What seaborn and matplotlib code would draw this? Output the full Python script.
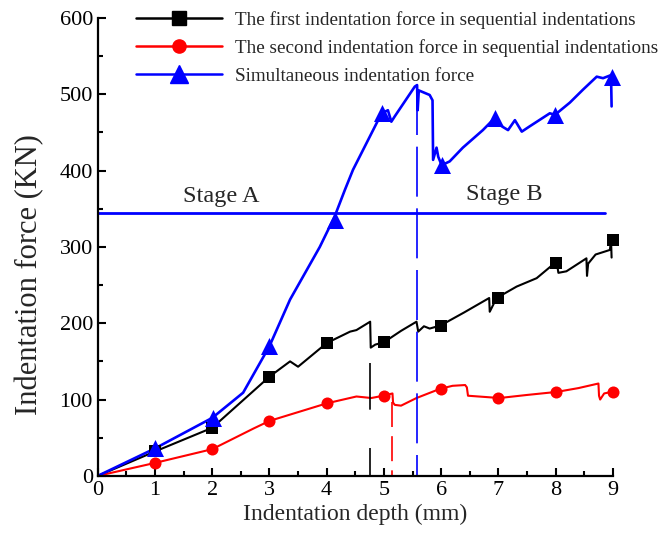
import numpy as np
import pandas as pd
import matplotlib
matplotlib.use("Agg")
import matplotlib.pyplot as plt
from matplotlib.lines import Line2D
from matplotlib.ticker import MultipleLocator
import seaborn as sns

# first indentation force (sequential) - black
first_depth = [0, 1.0, 2.0, 3.0, 3.36, 3.5, 3.71, 4.0, 4.41, 4.52, 4.76, 4.77, 4.85, 5.0,
               5.3, 5.57, 5.6, 5.7, 5.8, 5.99, 6.4, 6.84, 6.85, 6.97, 7.32, 7.67, 7.99,
               8.02, 8.05, 8.19, 8.54, 8.55, 8.57, 8.7, 8.95, 8.97, 8.98]
first_force = [0, 32, 63, 130, 150, 143, 156, 174, 189, 191, 202, 168, 172, 175,
               190, 202, 189, 196, 193, 197, 214, 233, 215, 233, 248, 259, 279,
               280, 266, 268, 285, 262, 278, 290, 296, 309, 286]
first_mark_x = [1, 2, 3, 4, 5, 6, 7, 8, 9]
first_mark_y = [32, 63, 130, 174, 175, 197, 233, 279, 309]

# second indentation force (sequential) - red
second_depth = [0, 1.0, 2.0, 2.72, 3.0, 4.0, 4.52, 4.78, 4.99, 5.15, 5.16, 5.19, 5.3,
                5.57, 5.98, 6.2, 6.42, 6.45, 6.47, 7.02, 7.5, 8.02, 8.4, 8.75, 8.76, 8.78,
                8.85, 8.98]
second_force = [0, 17, 35, 62, 72, 95, 104, 102, 105, 108, 96, 93, 92,
                102, 114, 118, 119, 116, 105, 102, 106, 110, 115, 121, 105, 100,
                108, 110]
second_mark_x = [1, 2, 3, 4, 5, 6, 7, 8, 9]
second_mark_y = [17, 35, 72, 95, 105, 114, 102, 110, 110]

# simultaneous indentation force - blue
simul_depth = [0, 1.0, 2.0, 2.54, 3.0, 3.36, 3.88, 4.14, 4.32, 4.46, 4.96, 5.07, 5.13,
               5.19, 5.54, 5.58, 5.59, 5.61, 5.8, 5.85, 5.86, 5.92, 5.95, 6.01, 6.15,
               6.38, 6.73, 6.94, 7.06, 7.17, 7.29, 7.41, 7.55, 7.9, 7.99, 8.25, 8.48,
               8.72, 8.83, 8.97, 8.98]
simul_force = [0, 36, 76, 109, 170, 231, 300, 340, 375, 401, 475, 479, 464,
               471, 510, 512, 479, 505, 499, 492, 414, 430, 418, 407, 412,
               430, 453, 469, 458, 453, 466, 451, 458, 475, 473, 489, 506,
               523, 521, 525, 484]
simul_mark_x = [1.0, 2.02, 3.0, 4.14, 4.96, 6.01, 6.94, 7.99, 8.98]
simul_mark_y = [36, 76, 170, 335, 475, 407, 469, 473, 523]

labels = ["The first indentation force in sequential indentations",
          "The second indentation force in sequential indentations",
          "Simultaneous indentation force"]

stage_force = 345
stage_end = 8.86
split_depths = [4.76, 5.15, 5.58]
split_tops = [148, 97, 512]

sns.set_style("ticks")
plt.rcParams["font.family"] = ["Liberation Serif", "DejaVu Serif"]

fig = plt.figure(figsize=(6.61, 5.42), dpi=100)
ax = fig.add_axes([0.148, 0.122, 0.779, 0.845])

series = [
    (first_depth, first_force, first_mark_x, first_mark_y, "black", "s", 85, 1.5),
    (second_depth, second_force, second_mark_x, second_mark_y, "red", "o", 75, 1.5),
    (simul_depth, simul_force, simul_mark_x, simul_mark_y, "blue", "^", 150, 1.9),
]
handles = []
for (dx, fy, mx, my, col, mk, ms, lw), lab in zip(series, labels):
    df = pd.DataFrame({"depth": dx, "force": fy})
    sns.lineplot(data=df, x="depth", y="force", color=col, lw=lw, ax=ax,
                 sort=False, estimator=None)
    dm = pd.DataFrame({"depth": mx, "force": my})
    sns.scatterplot(data=dm, x="depth", y="force", color=col, marker=mk, s=ms,
                    linewidth=0, ax=ax, zorder=5, clip_on=False)
    handles.append(Line2D([], [], color=col, lw=1.8, marker=mk,
                          markersize=13 if mk == "^" else 9.5))

# stage line and split markers (dashes drawn from the top down)
ax.plot([0, stage_end], [stage_force, stage_force], color="blue", lw=2)
for xd, top, col, dash in zip(split_depths, split_tops, ["black", "red", "blue"],
                              [(0, (28, 23)), (0, (15, 5.5)), (0, (30, 7))]):
    ax.plot([xd, xd], [top, 0], color=col, lw=1.2, linestyle=dash)

ax.text(2.15, 366, "Stage A", fontsize=17.5, ha="center", va="center")
ax.text(7.1, 368, "Stage B", fontsize=17.5, ha="center", va="center")

ax.set_xlim(0, 9)
ax.set_ylim(0, 600)
ax.xaxis.set_major_locator(MultipleLocator(1))
ax.xaxis.set_minor_locator(MultipleLocator(0.5))
ax.yaxis.set_major_locator(MultipleLocator(100))
ax.yaxis.set_minor_locator(MultipleLocator(50))
ax.tick_params(which="both", direction="in", width=1.5, labelsize=16, colors="black")
ax.tick_params(which="major", length=6)
ax.tick_params(which="minor", length=3.5)
sns.despine(ax=ax)
for s in ["left", "bottom"]:
    ax.spines[s].set_linewidth(1.6)
    ax.spines[s].set_color("black")

ax.set_xlabel("Indentation depth (mm)", fontsize=17, labelpad=3)
ax.set_ylabel("Indentation force (KN)", fontsize=22)
ax.yaxis.set_label_coords(-0.105, 0.44)

fig.legend(handles, labels, loc="upper left", bbox_to_anchor=(128 / 661, 1.0 - 3 / 542),
           frameon=False, fontsize=13.8, handlelength=4.5, handletextpad=0.7,
           labelspacing=0.55, borderaxespad=0)

fig.savefig("out.png", dpi=100)
